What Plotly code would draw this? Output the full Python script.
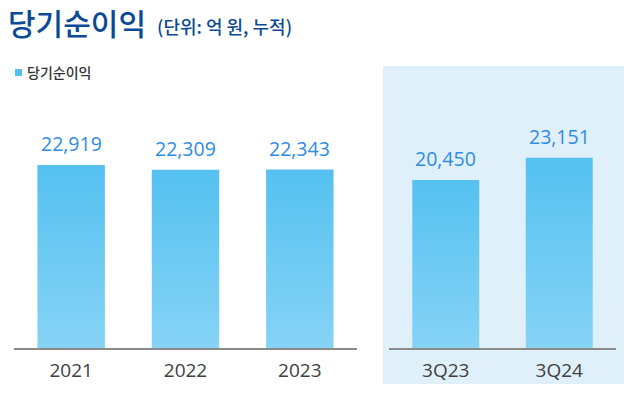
import plotly.graph_objects as go

years = ["2021", "2022", "2023"]
year_values = [22919, 22309, 22343]
quarters = ["3Q23", "3Q24"]
quarter_values = [20450, 23151]

W, H = 640, 400
BAR_W = 0.59
TOP_C = "#55C1F0"
BOT_C = "#86D3F5"
LABEL_C = "#2F8CE3"
TICK_C = "#404040"
NUM_FONT = "Open Sans, Noto Sans CJK KR"
KR_MED = "Noto Sans CJK KR Medium, Noto Sans CJK KR"

fig = go.Figure()
annotations = []


def add_bars(cats, vals, xa, ya):
    for i, (c, v) in enumerate(zip(cats, vals)):
        x0, x1 = i - BAR_W / 2, i + BAR_W / 2
        fig.add_trace(go.Scatter(
            x=[x0, x1, x1, x0, x0], y=[0, 0, v, v, 0],
            xaxis=xa, yaxis=ya, mode="lines", fill="toself",
            line=dict(width=0, color=TOP_C),
            fillgradient=dict(type="vertical",
                              colorscale=[[0, BOT_C], [1, TOP_C]]),
            hoverinfo="skip", showlegend=False))
        annotations.append(dict(
            x=i, y=v, xref=xa, yref=ya, text=f"{v:,}", showarrow=False,
            xanchor="center", yanchor="bottom", yshift=6,
            font=dict(family=NUM_FONT, size=19.5, color=LABEL_C)))


add_bars(years, year_values, "x", "y")
add_bars(quarters, quarter_values, "x2", "y2")

base = (H - 349) / H
common_x = dict(showgrid=False, zeroline=False, showline=False, ticks="",
                tickmode="array", fixedrange=True, ticklabelstandoff=8,
                tickfont=dict(family=NUM_FONT, size=19, color=TICK_C))

annotations += [
    dict(text="당기순이익", xref="paper", yref="paper", x=6 / W, y=1 - 22 / H,
         xanchor="left", yanchor="middle", showarrow=False,
         font=dict(family=KR_MED, size=30, color="#0B4A95")),
    dict(text="(단위: 억 원, 누적)", xref="paper", yref="paper", x=155 / W, y=1 - 26 / H,
         xanchor="left", yanchor="middle", showarrow=False,
         font=dict(family=KR_MED, size=18, color="#0B4A95")),
    dict(text="당기순이익", xref="paper", yref="paper", x=25 / W, y=1 - 72 / H,
         xanchor="left", yanchor="middle", showarrow=False,
         font=dict(family=KR_MED, size=14, color="#333333")),
]

fig.update_layout(
    width=W, height=H, margin=dict(l=0, r=0, t=0, b=0),
    paper_bgcolor="white", plot_bgcolor="rgba(0,0,0,0)",
    showlegend=False,
    xaxis=dict(domain=[14 / W, 357 / W], range=[-0.5, 2.5],
               tickvals=list(range(len(years))), ticktext=years, **common_x),
    xaxis2=dict(domain=[389 / W, 616 / W], range=[-0.5, 1.5], anchor="y2",
                tickvals=list(range(len(quarters))), ticktext=quarters, **common_x),
    yaxis=dict(domain=[base, 1], range=[0, 43462], visible=False, fixedrange=True),
    yaxis2=dict(domain=[base, 1], range=[0, 42252], visible=False, anchor="x2",
                fixedrange=True),
    shapes=[
        dict(type="rect", xref="paper", yref="paper",
             x0=383 / W, x1=624 / W, y0=(H - 384) / H, y1=(H - 66) / H,
             fillcolor="#DFF0FA", line=dict(width=0), layer="below"),
        dict(type="line", xref="paper", yref="paper",
             x0=14 / W, x1=357 / W, y0=base, y1=base,
             line=dict(color="#8A8A8A", width=2)),
        dict(type="line", xref="paper", yref="paper",
             x0=389 / W, x1=616 / W, y0=base, y1=base,
             line=dict(color="#8A8A8A", width=2)),
        dict(type="rect", xref="paper", yref="paper",
             x0=15 / W, x1=22 / W, y0=(H - 76) / H, y1=(H - 69) / H,
             fillcolor=TOP_C, line=dict(width=0)),
    ],
    annotations=annotations,
)

fig.write_html("out.html", config={"displayModeBar": False},
               post_script="document.body.style.margin='0';document.body.style.overflow='hidden';")
